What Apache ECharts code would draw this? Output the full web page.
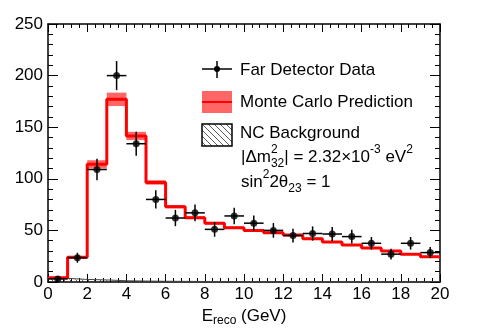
<!DOCTYPE html>
<html>
<head>
<meta charset="utf-8">
<script src="https://cdn.jsdelivr.net/npm/echarts@6/dist/echarts.min.js"></script>
<style>
html, body { margin: 0; padding: 0; background: #fff; }
#chart { width: 491px; height: 332px; }
</style>
</head>
<body>
<div id="chart"></div>
<script>
// 1 GeV bins, lower edges
const binLow = [0, 1, 2, 3, 4, 5, 6, 7, 8, 9, 10, 11, 12, 13, 14, 15, 16, 17, 18, 19];
// far detector data (events/GeV) and its error bars
const dataCounts = [3, 23.5, 109, 200, 134, 80, 62, 67, 51, 64, 57, 50, 45, 47, 46.5, 44, 37.5, 27, 37.5, 28.5];
const dataErr = [1.7, 4.8, 10.4, 14.1, 11.6, 8.9, 7.9, 8.2, 7.1, 8.0, 7.5, 7.1, 6.7, 6.9, 6.8, 6.6, 6.1, 5.2, 6.1, 5.3];
// monte carlo prediction and its systematic band
const mcPred = [4, 24, 114, 177, 141.5, 96.5, 73, 62.3, 57, 52.6, 50, 47.8, 45.5, 42, 38.8, 35.9, 33, 30, 27, 24.5];
const mcErr = [0.6, 1.2, 4, 6.5, 4, 2.2, 1.6, 1.3, 1.2, 1.1, 1, 1, 0.9, 0.9, 0.8, 0.8, 0.7, 0.7, 0.6, 0.6];
// NC background
const ncBkg = [3.5, 2.5, 2, 1.2, 0.9, 0.7, 0.6, 0.5, 0.5, 0.4, 0.4, 0.4, 0.3, 0.3, 0.3, 0.3, 0.3, 0.2, 0.2, 0.2];

const FONT = "'Liberation Sans', Arial, Helvetica, sans-serif";
const FS = 17;

// hatch pattern for the NC background
function makeHatch() {
  let c = document.createElement('canvas');
  c.width = 6; c.height = 6;
  let g = c.getContext('2d');
  g.strokeStyle = '#333';
  g.lineWidth = 0.8;
  [-6, 0, 6].forEach(k => {
    g.beginPath();
    g.moveTo(k, 0);
    g.lineTo(k + 6, 6);
    g.stroke();
  });
  return c;
}
const hatch = { image: makeHatch(), repeat: 'repeat' };

const measureCtx = document.createElement('canvas').getContext('2d');
function textWidth(s, size) {
  measureCtx.font = size + 'px ' + FONT;
  return measureCtx.measureText(s).width;
}
function txt(x, y, s, size) {
  return { type: 'text', x: x, y: y, style: { text: s, fontSize: size, fontFamily: FONT, fill: '#000', verticalAlign: 'middle' } };
}
// lay out a line with super/subscripts
function formula(x, y, parts) {
  let out = [];
  parts.forEach(p => {
    let t = p[0], kind = p[1];
    if (kind === 'n') {
      out.push(txt(x, y, t, FS)); x += textWidth(t, FS);
    } else if (kind === 'sup') {
      out.push(txt(x, y - 7, t, 12)); x += textWidth(t, 12);
    } else if (kind === 'sub') {
      out.push(txt(x, y + 7, t, 12)); x += textWidth(t, 12);
    } else { // stacked
      out.push(txt(x, y - 7, t, 12));
      out.push(txt(x, y + 7, p[2], 12));
      x += Math.max(textWidth(t, 12), textWidth(p[2], 12));
    }
  });
  return out;
}

function binRect(api, lo, y0, y1) {
  let a = api.coord([lo, y1]);
  let b = api.coord([lo + 1, y0]);
  return { x: a[0], y: a[1], width: b[0] - a[0], height: b[1] - a[1] };
}

const chart = echarts.init(document.getElementById('chart'));

let stepLine = binLow.map((x, i) => [x, mcPred[i]]);
stepLine.push([20, mcPred[mcPred.length - 1]]);
let ncLine = binLow.map((x, i) => [x, ncBkg[i]]);
ncLine.push([20, ncBkg[ncBkg.length - 1]]);

let tickCommon = { show: true, inside: true, length: 10, lineStyle: { color: '#000' } };
let minorCommon = { show: true, splitNumber: 5, length: 5, lineStyle: { color: '#000' } };
let xTick = { show: true, inside: true, length: 8, lineStyle: { color: '#000' } };
let xMinor = { show: true, splitNumber: 5, length: 4, lineStyle: { color: '#000' } };

let legend = [
  // Far Detector Data
  { type: 'line', shape: { x1: 202, y1: 69, x2: 232, y2: 69 }, style: { stroke: '#000', lineWidth: 1.5 } },
  { type: 'line', shape: { x1: 217, y1: 61, x2: 217, y2: 78 }, style: { stroke: '#000', lineWidth: 1.5 } },
  { type: 'circle', shape: { cx: 217, cy: 69, r: 3 }, style: { fill: '#000' } },
  txt(240, 70, 'Far Detector Data', FS),
  // Monte Carlo
  { type: 'rect', shape: { x: 202, y: 91, width: 30, height: 22 }, style: { fill: 'rgba(255,0,0,0.6)' } },
  { type: 'line', shape: { x1: 202, y1: 102, x2: 232, y2: 102 }, style: { stroke: '#ff0000', lineWidth: 2 } },
  txt(240, 102, 'Monte Carlo Prediction', FS),
  // NC
  { type: 'rect', shape: { x: 202, y: 124, width: 30, height: 22 }, style: { fill: hatch, stroke: '#000', lineWidth: 1.5 } },
  txt(240, 133, 'NC Background', FS)
].concat(
  formula(241, 157, [['|\u0394m', 'n'], ['2', 'both', '32'], ['| = 2.32\u00d710', 'n'], ['-3', 'sup'], [' eV', 'n'], ['2', 'sup']]),
  formula(241, 182, [['sin', 'n'], ['2', 'sup'], ['2\u03b8', 'n'], ['23', 'sub'], [' = 1', 'n']])
);

let option = {
  animation: false,
  backgroundColor: '#fff',
  grid: { left: 48, right: 51, top: 24, bottom: 50, outerBoundsMode: 'none', containLabel: false },
  xAxis: [{
    type: 'value', min: 0, max: 20, interval: 2, position: 'bottom',
    axisLine: { show: true, onZero: false, lineStyle: { color: '#000', width: 1.5 } },
    axisTick: xTick, minorTick: xMinor,
    splitLine: { show: false },
    axisLabel: { fontSize: FS, color: '#000', fontFamily: FONT, margin: 4 },
    name: 'E{sub|reco} (GeV)', nameLocation: 'middle', nameGap: 24,
    nameTextStyle: {
      fontSize: FS, color: '#000', fontFamily: FONT,
      rich: { sub: { fontSize: 12, color: '#000', fontFamily: FONT, padding: [9, 0, 0, 0] } }
    }
  }, {
    type: 'value', min: 0, max: 20, interval: 2, position: 'top',
    axisLine: { show: true, onZero: false, lineStyle: { color: '#000', width: 1.5 } },
    axisTick: xTick, minorTick: xMinor,
    splitLine: { show: false }, axisLabel: { show: false }
  }],
  yAxis: [{
    type: 'value', min: 0, max: 250, interval: 50, position: 'left',
    axisLine: { show: true, onZero: false, lineStyle: { color: '#000', width: 1.5 } },
    axisTick: tickCommon, minorTick: minorCommon,
    splitLine: { show: false },
    axisLabel: { fontSize: FS, color: '#000', fontFamily: FONT, margin: 5 },
    name: 'Events/GeV', nameLocation: 'middle', nameRotate: 90, nameGap: 29,
    nameTextStyle: { fontSize: FS, color: '#000', fontFamily: FONT }
  }, {
    type: 'value', min: 0, max: 250, interval: 50, position: 'right',
    axisLine: { show: true, onZero: false, lineStyle: { color: '#000', width: 1.5 } },
    axisTick: tickCommon, minorTick: minorCommon,
    splitLine: { show: false }, axisLabel: { show: false }
  }],
  graphic: legend,
  series: [{
    name: 'NC Background',
    type: 'custom',
    clip: true,
    z: 2,
    encode: { x: 0, y: 1 },
    data: binLow.map((x, i) => [x, ncBkg[i]]),
    renderItem: function(params, api) {
      return { type: 'rect', shape: binRect(api, api.value(0), 0, api.value(1)), style: { fill: hatch } };
    }
  }, {
    type: 'line',
    step: 'end',
    z: 3,
    symbol: 'none',
    data: ncLine,
    lineStyle: { color: '#444', width: 1 }
  }, {
    name: 'Monte Carlo band',
    type: 'custom',
    clip: true,
    z: 4,
    encode: { x: 0, y: 1 },
    data: binLow.map((x, i) => [x, mcPred[i], mcErr[i]]),
    renderItem: function(params, api) {
      let v = api.value(1), e = api.value(2);
      return { type: 'rect', shape: binRect(api, api.value(0), v - e, v + e), style: { fill: 'rgba(255,0,0,0.6)' } };
    }
  }, {
    name: 'Monte Carlo Prediction',
    type: 'line',
    step: 'end',
    z: 5,
    symbol: 'none',
    data: stepLine,
    lineStyle: { color: '#ff0000', width: 3 }
  }, {
    name: 'Far Detector Data',
    type: 'custom',
    clip: true,
    z: 6,
    encode: { x: 0, y: 1 },
    data: binLow.map((x, i) => [x + 0.5, dataCounts[i], dataErr[i]]),
    renderItem: function(params, api) {
      let x = api.value(0), y = api.value(1), e = api.value(2);
      let top = api.coord([x, y + e]);
      let bot = api.coord([x, y - e]);
      let l = api.coord([x - 0.5, y]);
      let r = api.coord([x + 0.5, y]);
      let st = { stroke: '#000', lineWidth: 1.5 };
      return {
        type: 'group',
        children: [
          { type: 'line', shape: { x1: top[0], y1: top[1], x2: bot[0], y2: bot[1] }, style: st },
          { type: 'line', shape: { x1: l[0], y1: l[1], x2: r[0], y2: r[1] }, style: st }
        ]
      };
    }
  }, {
    type: 'scatter',
    z: 7,
    symbolSize: 7,
    itemStyle: { color: '#000' },
    data: binLow.map((x, i) => [x + 0.5, dataCounts[i]])
  }]
};
chart.setOption(option);
</script>
</body>
</html>
